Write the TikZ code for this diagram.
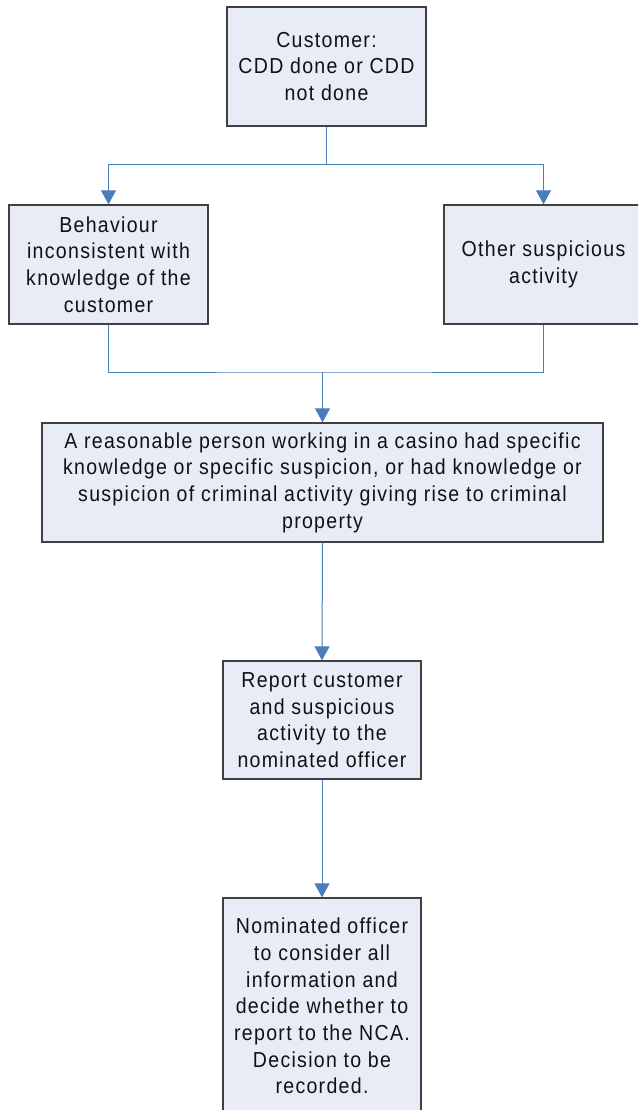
\documentclass[tikz,border=0pt]{standalone}
\usepackage{fontspec}
\setmainfont{Liberation Sans}[FakeStretch=0.9, LetterSpace=6]
\usetikzlibrary{arrows.meta}
\definecolor{boxfill}{HTML}{E7ECF6}
\definecolor{boxline}{HTML}{404040}
\definecolor{linkblue}{HTML}{4A7EBB}
\definecolor{inkgray}{HTML}{111111}
\begin{document}
\begin{tikzpicture}[x=1pt,y=-1pt,
  box/.style={draw=boxline, fill=boxfill, line width=1.3pt, align=center,
    inner sep=0pt, text=inkgray, font=\fontsize{21.7}{26.7}\selectfont},
  link/.style={draw=linkblue, line width=1pt},
  arr/.style={link, -{Triangle[width=15pt,length=14pt]}}]
\useasboundingbox (0,0) rectangle (638,1110);
\clip (0,0) rectangle (638,1110);

\node[box, minimum width=199pt, minimum height=119pt] (cust) at (326.5,66.5)
  {Customer:\\CDD done or CDD\\not done};
\node[box, minimum width=199pt, minimum height=119pt] (behav) at (108.5,264.5)
  {Behaviour\\inconsistent with\\knowledge of the\\customer};
\node[box, minimum width=199pt, minimum height=119pt] (other) at (543.5,264.5)
  {Other suspicious\\activity};
\node[box, minimum width=561pt, minimum height=119pt] (know) at (322.5,482.5)
  {A reasonable person working in a casino had specific\\knowledge or specific suspicion, or had knowledge or\\suspicion of criminal activity giving rise to criminal\\property};
\node[box, minimum width=198pt, minimum height=118pt] (report) at (322,720)
  {Report customer\\and suspicious\\activity to the\\nominated officer};
\node[box, minimum width=198pt, minimum height=216pt] (nom) at (322,1006)
  {Nominated officer\\to consider all\\information and\\decide whether to\\report to the NCA.\\Decision to be\\recorded.};

\coordinate (split) at (326.5,165);
\coordinate (join) at (322.5,372);

\draw[link] (cust.south) -- (split);
\draw[arr] (split) -| (behav.north);
\draw[arr] (split) -| (other.north);
\draw[link] (behav.south) |- (join) -| (other.south);
\draw[arr] (join) -- (know.north);
\draw[arr] (know.south) -- (report.north);
\draw[arr] (report.south) -- (nom.north);
\end{tikzpicture}
\end{document}
